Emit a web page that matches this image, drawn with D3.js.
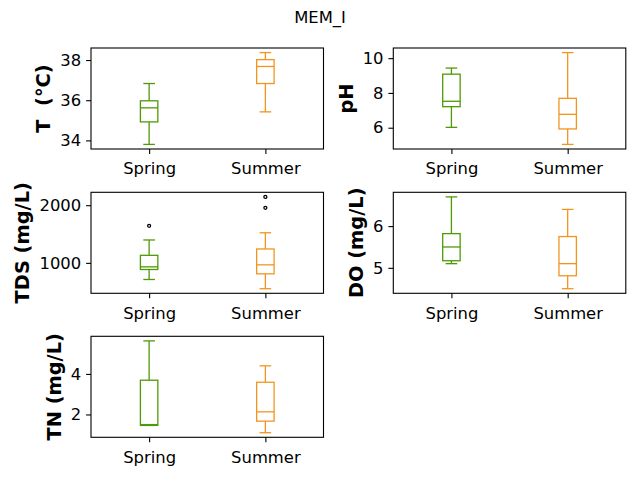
<!DOCTYPE html>
<html>
<head>
<meta charset="utf-8">
<script src="https://cdn.jsdelivr.net/npm/d3@7"></script>
<style>
  body { margin: 0; background: #fff; }
  svg { display: block; font-family: "DejaVu Sans", sans-serif; }
</style>
</head>
<body>
<svg id="chart" width="640" height="480"></svg>
<script>
// ---- data ----
const chartTitle = "MEM_I";
const variables = ["T  (°C)", "pH", "TDS (mg/L)", "DO (mg/L)", "TN (mg/L)"];
const seasons = ["Spring", "Summer"];
// stats: [whisker low, Q1, median, Q3, whisker high]
const springStats = [
  [33.80, 34.92, 35.62, 35.97, 36.83],
  [6.02, 7.21, 7.52, 9.08, 9.43],
  [712, 885, 931, 1131, 1397],
  [5.10, 5.17, 5.50, 5.82, 6.70],
  [1.46, 1.46, 1.50, 3.69, 5.63]
];
const summerStats = [
  [35.42, 36.83, 37.68, 38.02, 38.37],
  [5.04, 5.93, 6.77, 7.69, 10.32],
  [552, 810, 966, 1241, 1522],
  [4.50, 4.81, 5.10, 5.75, 6.40],
  [1.10, 1.67, 2.13, 3.59, 4.40]
];
const springOutliers = [[], [], [1643], [], []];
const summerOutliers = [[], [], [1954, 2144], [], []];
const yTickValues = [[34, 36, 38], [6, 8, 10], [1000, 2000], [5, 6], [2, 4]];
const seasonColors = ["#4e9a06", "#f2951f"];

// ---- layout ----
const colX = [91, 393.3];
const rowY = [48, 192.3, 336.3];
const axW = 232.5, axH = 101;
const tickFont = 16.4, labelFont = 19.4;

const svg = d3.select("#chart");
svg.append("text")
  .attr("x", 320).attr("y", 23)
  .attr("text-anchor", "middle")
  .attr("font-size", tickFont)
  .text(chartTitle);

variables.forEach((name, i) => {
  const x0 = colX[i % 2], y0 = rowY[Math.floor(i / 2)];
  const g = svg.append("g").attr("transform", `translate(${x0},${y0})`);
  const statsBy = [springStats[i], summerStats[i]];
  const outBy = [springOutliers[i], summerOutliers[i]];
  const allVals = statsBy.flat().concat(outBy.flat());
  const lo = d3.min(allVals), hi = d3.max(allVals);
  const pad = (hi - lo) * 0.05;
  const y = d3.scaleLinear().domain([lo - pad, hi + pad]).range([axH, 0]);
  const x = d3.scaleLinear().domain([0.5, 2.5]).range([0, axW]);
  const boxW = x(0.65) - x(0.5);
  const capW = x(0.6) - x(0.5);

  // axes
  const yAxis = d3.axisLeft(y).tickValues(yTickValues[i]).tickSize(4.9).tickPadding(4.9).tickFormat(d3.format("d"));
  const ya = g.append("g").call(yAxis);
  const xAxis = d3.axisBottom(x).tickValues([1, 2]).tickSize(4.9).tickPadding(4.9).tickFormat((d) => seasons[d - 1]);
  const xa = g.append("g").attr("transform", `translate(0,${axH})`).call(xAxis);
  [ya, xa].forEach(a => {
    a.select(".domain").remove();
    a.selectAll("line").attr("stroke", "#000").attr("stroke-width", 1.1);
    a.selectAll("text").attr("font-size", tickFont).attr("fill", "#000").attr("font-family", "DejaVu Sans, sans-serif");
  });
  xa.selectAll("text").attr("dy", null).attr("y", 25.3);

  // boxes
  seasons.forEach((s, k) => {
    const st = statsBy[k];
    const cx = x(k + 1);
    const col = seasonColors[k];
    const bg = g.append("g").attr("stroke", col).attr("stroke-width", 1.3).attr("fill", "none");
    bg.append("line").attr("x1", cx).attr("x2", cx).attr("y1", y(st[0])).attr("y2", y(st[1]));
    bg.append("line").attr("x1", cx).attr("x2", cx).attr("y1", y(st[3])).attr("y2", y(st[4]));
    bg.append("line").attr("x1", cx - capW / 2).attr("x2", cx + capW / 2).attr("y1", y(st[0])).attr("y2", y(st[0]));
    bg.append("line").attr("x1", cx - capW / 2).attr("x2", cx + capW / 2).attr("y1", y(st[4])).attr("y2", y(st[4]));
    bg.append("rect").attr("x", cx - boxW / 2).attr("width", boxW)
      .attr("y", y(st[3])).attr("height", y(st[1]) - y(st[3]));
    bg.append("line").attr("x1", cx - boxW / 2).attr("x2", cx + boxW / 2).attr("y1", y(st[2])).attr("y2", y(st[2]));
    g.selectAll(null).data(outBy[k]).enter().append("circle")
      .attr("cx", cx).attr("cy", d => y(d)).attr("r", 1.5)
      .attr("fill", "none").attr("stroke", "#000").attr("stroke-width", 1.3);
  });

  // frame
  g.append("rect").attr("x", 0).attr("y", 0).attr("width", axW).attr("height", axH)
    .attr("fill", "none").attr("stroke", "#000").attr("stroke-width", 1.1);

  // y label
  let minLeft = 0;
  ya.selectAll("text").each(function () {
    const b = this.getBBox();
    minLeft = Math.min(minLeft, b.x);
  });
  const lx = minLeft - 10;
  g.append("text")
    .attr("transform", `translate(${lx},${axH / 2}) rotate(-90)`)
    .attr("text-anchor", "middle")
    .attr("font-size", labelFont)
    .attr("font-weight", "bold")
    .attr("xml:space", "preserve")
    .style("white-space", "pre")
    .text(name);
});
</script>
</body>
</html>
